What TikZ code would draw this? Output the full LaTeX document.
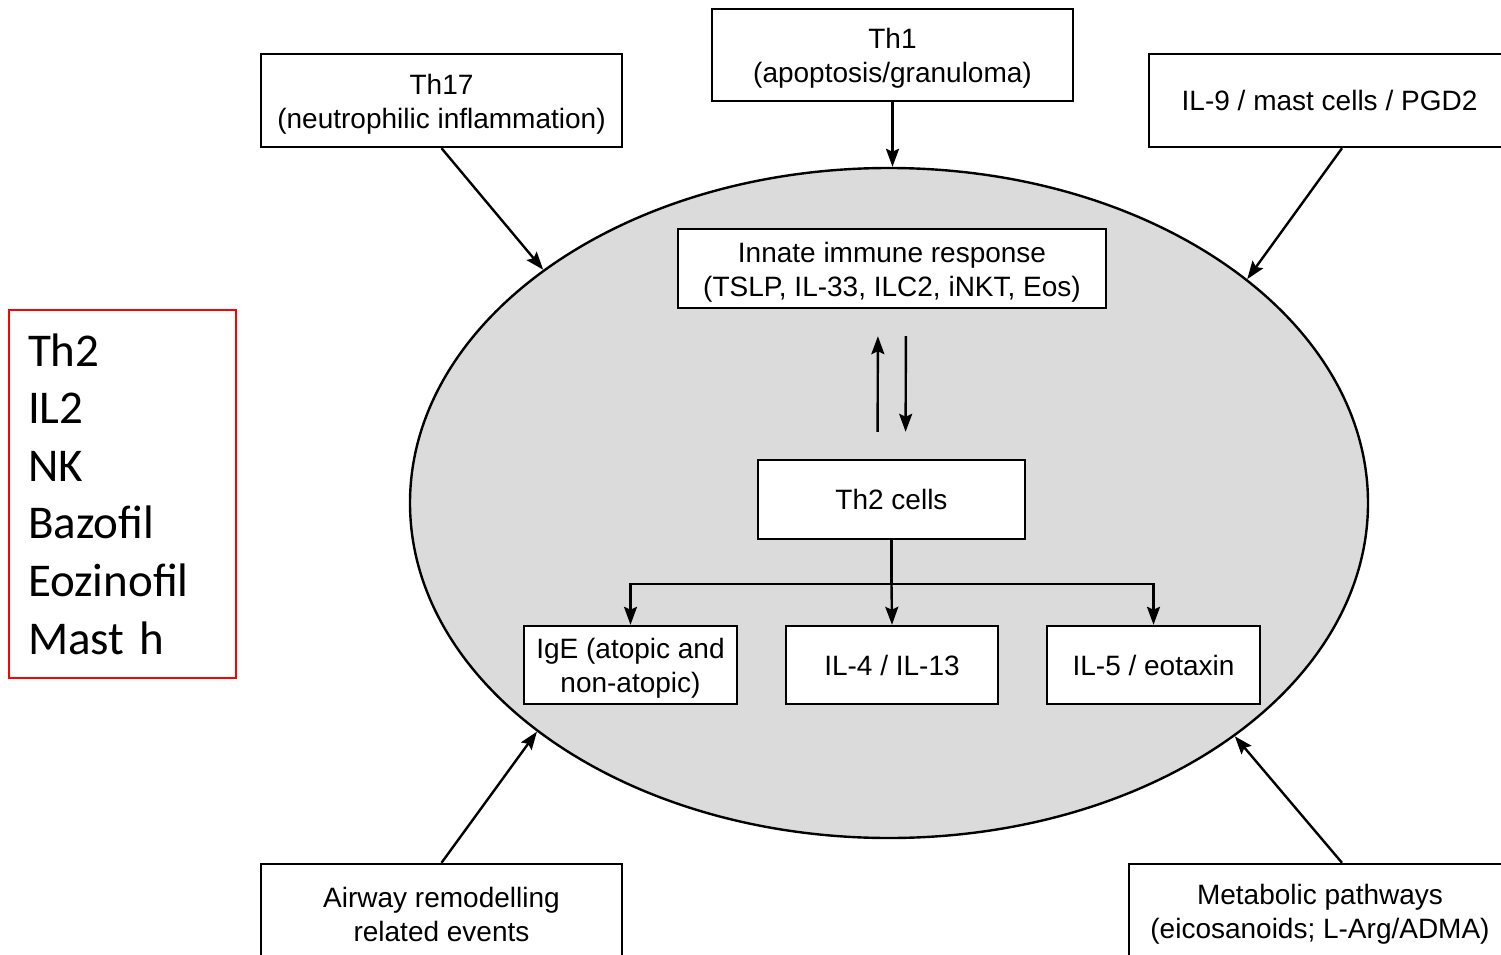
\documentclass[tikz,border=0pt]{standalone}
\usepackage{fontspec}
\setmainfont{Liberation Sans}
\newfontfamily\calib{Carlito}
\usetikzlibrary{shapes.geometric,arrows.meta}
\newcommand{\toppad}{\rule{0pt}{27pt}}
\begin{document}
\begin{tikzpicture}[x=1pt,y=-1pt,
  box/.style={draw=black,line width=2.4pt,fill=white,inner sep=0pt,align=center,
    font=\fontsize{28}{34}\selectfont},
  arr/.style={line width=2.4pt,-{Stealth[length=18pt,width=13pt,inset=3pt]}},
  ln/.style={line width=2.4pt}]
\useasboundingbox (0,0) rectangle (1501,955);
\clip (0,0) rectangle (1501,955);

% central compartment
\node[ellipse,draw=black,line width=2.4pt,fill=black!14,inner sep=0pt,
  minimum width=958,minimum height=670] (ell) at (889,503) {};

% outer influences
\node[box,minimum width=361,minimum height=93] (th17) at (441.5,100.5)
  {\toppad Th17\\(neutrophilic inflammation)};
\node[box,minimum width=361,minimum height=92] (th1) at (892.5,55)
  {\toppad Th1\\(apoptosis/granuloma)};
\node[box,minimum width=361,minimum height=93] (il9) at (1329.5,100.5)
  {IL-9 / mast cells / PGD2};
\node[box,minimum width=361,minimum height=94] (air) at (441.5,911)
  {\toppad Airway remodelling\\related events};
\node[box,minimum width=382,minimum height=94] (meta) at (1320,911)
  {\toppad Metabolic pathways\\(eicosanoids; L-Arg/ADMA)};

% inner cascade
\node[box,minimum width=428,minimum height=79] (innate) at (892,268.5)
  {\toppad Innate immune response\\(TSLP, IL-33, ILC2, iNKT, Eos)};
\node[box,minimum width=267,minimum height=79] (th2) at (891.5,499.5)
  {Th2 cells};
\node[box,minimum width=213,minimum height=78] (ige) at (630.5,665)
  {\toppad IgE (atopic and\\non-atopic)};
\node[box,minimum width=212,minimum height=78] (il4) at (892,665)
  {IL-4 / IL-13};
\node[box,minimum width=213,minimum height=78] (il5) at (1153.5,665)
  {IL-5 / eotaxin};

% legend
\node[draw=red,line width=2pt,minimum width=227,minimum height=368,
  inner xsep=19pt,inner ysep=0pt,text width=189,align=left,
  font=\calib\fontsize{47}{57.6}\selectfont] (leg) at (122.5,494)
  {Th2\\IL2\\NK\\Bazofil\\Eozinofil\\Mast h};

% arrows into the compartment
\draw[arr] (th17.south) -- (ell.146.8);
\draw[arr] (th1.south) -- (th1.south |- ell.north);
\draw[arr] ([xshift=12.5pt]il9.south) -- (ell.32.6);
\draw[arr] (air.north) -- (ell.213.6);
\draw[arr] ([xshift=22pt]meta.north) -- (ell.326.9);

% feedback between innate response and Th2 cells
\draw[arr,shorten <=27pt,shorten >=27pt] ([xshift=-14pt]th2.north) -- ([xshift=-14pt]innate.south);
\draw[arr,shorten <=27pt,shorten >=27pt] ([xshift=14pt]innate.south) -- ([xshift=14pt]th2.north);

% Th2 effector branches
\coordinate (split) at ([yshift=-44pt]th2.south);
\draw[ln] (th2.south) -- (split);
\draw[ln,line cap=rect] (split -| ige.north) -- (split -| il5.north);
\draw[arr] (split -| ige.north) -- (ige.north);
\draw[arr] (split) -- (il4.north);
\draw[arr] (split -| il5.north) -- (il5.north);
\end{tikzpicture}
\end{document}
